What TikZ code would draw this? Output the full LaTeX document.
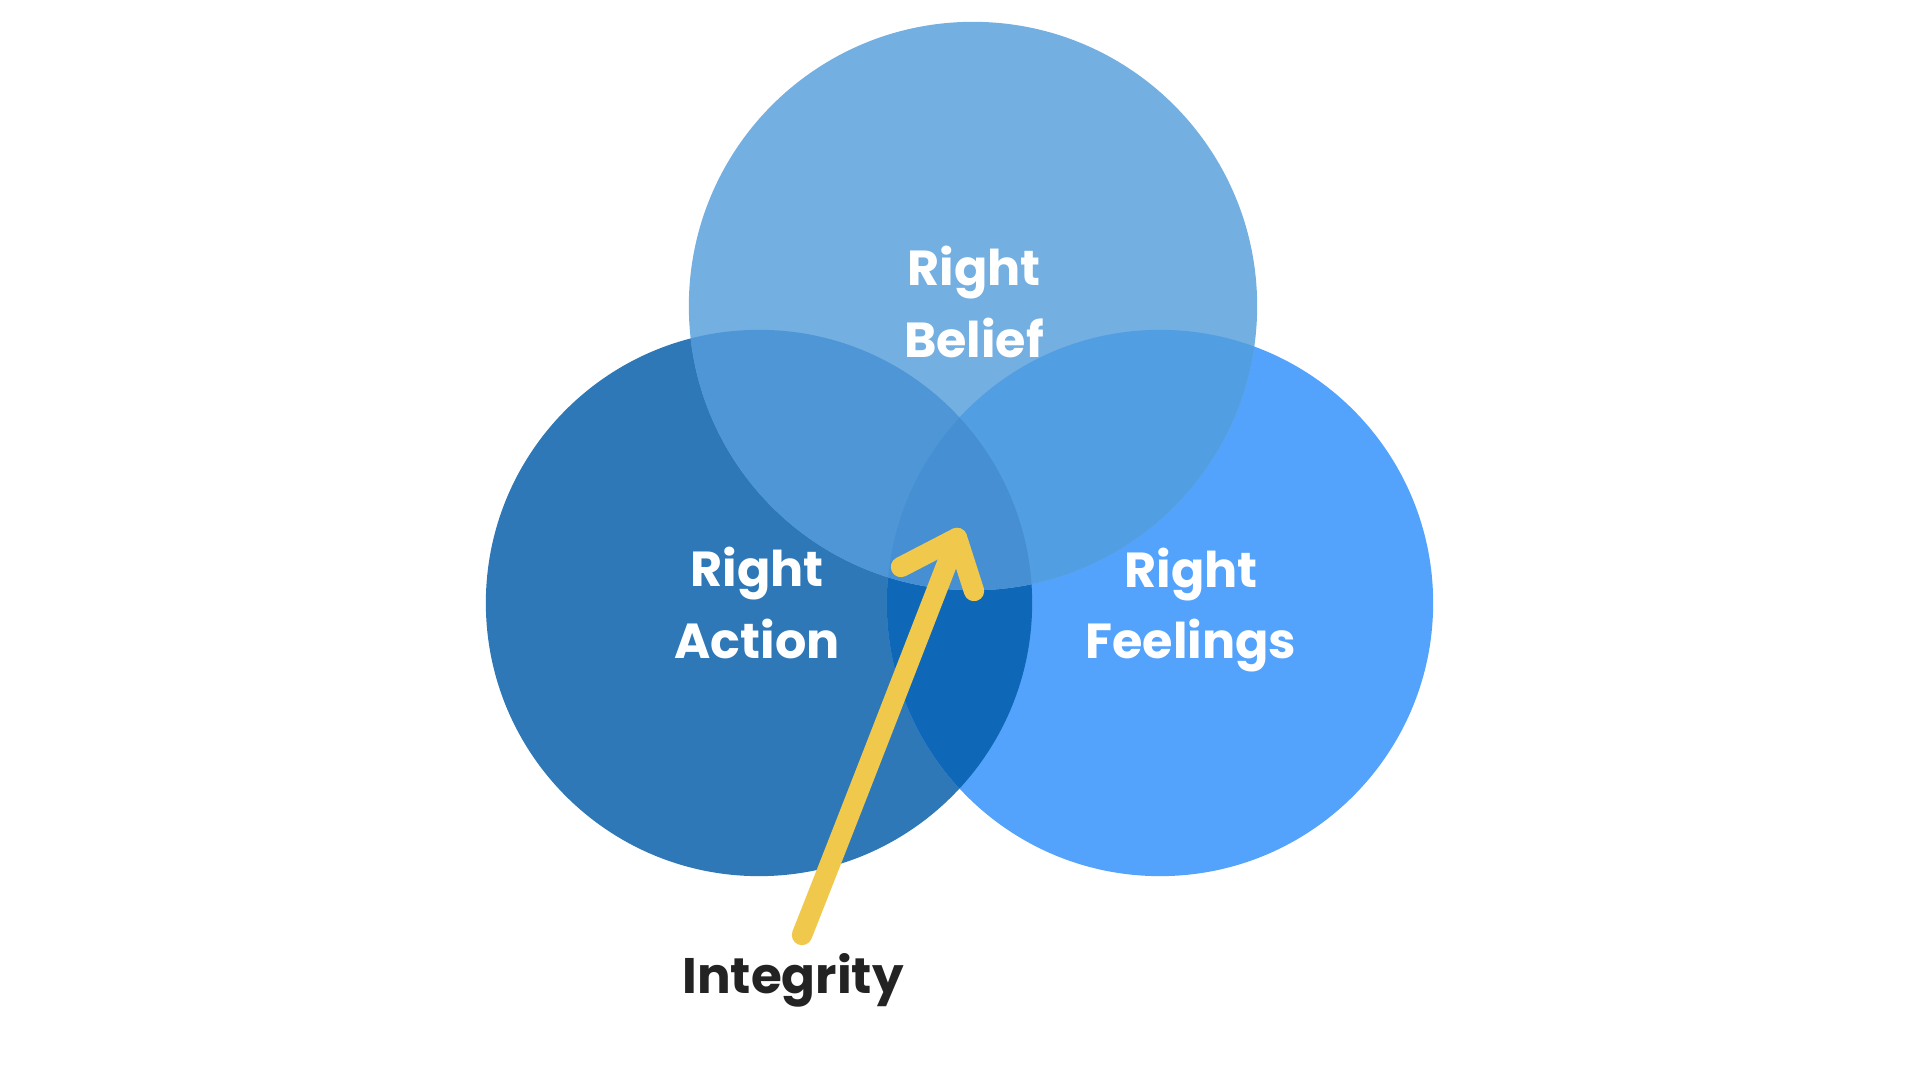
\documentclass[tikz,border=0pt]{standalone}
\usepackage{fontspec}
\setmainfont{Poppins}
\definecolor{actblue}{HTML}{2F78B8}
\definecolor{feelblue}{HTML}{53A3FD}
\definecolor{bothblue}{HTML}{0F67B8}
\definecolor{belblue}{HTML}{74AFE1}
\definecolor{belact}{HTML}{4E96D6}
\definecolor{belfeel}{HTML}{529EE3}
\definecolor{allblue}{HTML}{478FD3}
\definecolor{arrowyellow}{HTML}{F0C84B}
\definecolor{intgray}{HTML}{232323}
\tikzset{
    lbl/.style={font=\bfseries\fontsize{14}{20.2}\selectfont,text=white,align=center},
    arrowline/.style={arrowyellow,line width=5.8pt,line cap=round,line join=round}
}
\begin{document}
\begin{tikzpicture}[x=0.01cm,y=-0.01cm]
    \useasboundingbox (0,0) rectangle (1920,1080);
    % bottom circles
    \fill[actblue] (759,603) circle (2.73cm);
    \fill[feelblue] (1160,603) circle (2.73cm);
    \begin{scope}
        \clip (1160,603) circle (2.73cm);
        \fill[bothblue] (759,603) circle (2.73cm);
    \end{scope}
    % top circle and its overlaps
    \fill[belblue] (973,306) circle (2.84cm);
    \begin{scope}
        \clip (973,306) circle (2.84cm);
        \fill[belact] (759,603) circle (2.73cm);
        \fill[belfeel] (1160,603) circle (2.73cm);
        \clip (759,603) circle (2.73cm);
        \fill[allblue] (1160,603) circle (2.73cm);
    \end{scope}
    % labels
    \node[lbl] (belief) at (974,302) {Right\\Belief};
    \node[lbl] (action) at (757,603) {Right\\Action};
    \node[lbl] (feelings) at (1191,610) {Right\\Feelings};
    \node[font=\bfseries\fontsize{14.2}{20}\selectfont,text=intgray,anchor=base] (integrity) at (793,994) {Integrity};
    % arrow
    \coordinate (tail) at (802,935);
    \coordinate (tip) at (957,538);
    \draw[arrowline] (tail) .. controls (855,801) and (906,669) .. (tip);
    \draw[arrowline] (901,567) -- (tip) -- (974,591);
\end{tikzpicture}
\end{document}
